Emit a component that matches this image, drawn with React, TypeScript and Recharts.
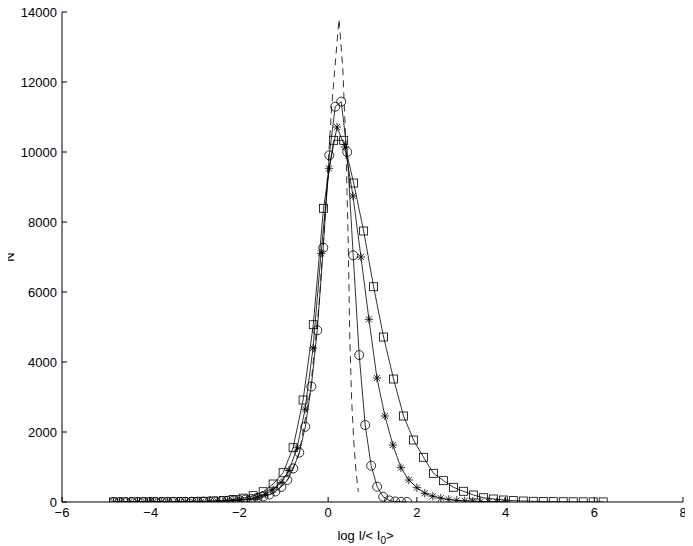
import React from 'react';
import { ScatterChart, Scatter, XAxis, YAxis } from 'recharts';

const FONT = '"Liberation Sans", Arial, Helvetica, sans-serif';

const xTicks = [-6, -4, -2, 0, 2, 4, 6, 8];
const yTicks = [0, 2000, 4000, 6000, 8000, 10000, 12000, 14000];

const circleX = [-4.835, -4.7, -4.565, -4.43, -4.295, -4.16, -4.025, -3.89, -3.755, -3.62, -3.485, -3.35, -3.215, -3.08, -2.945, -2.81, -2.675, -2.54, -2.405, -2.27, -2.135, -2.0, -1.865, -1.73, -1.595, -1.46, -1.325, -1.19, -1.055, -0.92, -0.785, -0.65, -0.515, -0.38, -0.245, -0.11, 0.025, 0.16, 0.295, 0.43, 0.565, 0.7, 0.835, 0.97, 1.105, 1.24, 1.375, 1.51, 1.645, 1.78];
const circleY = [1, 1, 1, 1, 2, 2, 2, 3, 3, 4, 4, 5, 6, 7, 9, 12, 15, 19, 25, 32, 42, 55, 70, 90, 120, 160, 215, 300, 430, 630, 960, 1410, 2150, 3300, 4905, 7266, 9905, 11294, 11440, 10000, 7048, 4200, 2200, 1037, 437, 151, 45, 15, 6, 2];

const starX = [-4.84, -4.66, -4.48, -4.3, -4.12, -3.94, -3.76, -3.58, -3.4, -3.22, -3.04, -2.86, -2.68, -2.5, -2.32, -2.14, -1.96, -1.78, -1.6, -1.42, -1.24, -1.06, -0.88, -0.7, -0.52, -0.34, -0.16, 0.02, 0.2, 0.38, 0.56, 0.74, 0.92, 1.1, 1.28, 1.46, 1.64, 1.82, 2.0, 2.18, 2.36, 2.54, 2.72, 2.9, 3.08, 3.26, 3.44, 3.62, 3.8, 3.98];
const starY = [1, 1, 1, 2, 2, 3, 3, 4, 5, 6, 8, 10, 14, 20, 28, 40, 60, 90, 140, 220, 350, 560, 900, 1550, 2650, 4400, 7105, 9534, 10714, 10143, 8743, 7000, 5220, 3543, 2457, 1629, 980, 629, 409, 249, 165, 110, 72, 48, 32, 22, 15, 10, 7, 5];

const squareX = [-4.84, -4.615, -4.39, -4.165, -3.94, -3.715, -3.49, -3.265, -3.04, -2.815, -2.59, -2.365, -2.14, -1.915, -1.69, -1.465, -1.24, -1.015, -0.79, -0.565, -0.335, -0.105, 0.124, 0.35, 0.575, 0.8, 1.025, 1.25, 1.475, 1.7, 1.925, 2.15, 2.375, 2.6, 2.825, 3.05, 3.275, 3.5, 3.725, 3.95, 4.175, 4.4, 4.625, 4.85, 5.075, 5.3, 5.525, 5.75, 5.975, 6.2];
const squareY = [1, 2, 2, 3, 4, 5, 7, 10, 14, 20, 30, 45, 70, 110, 180, 294, 514, 837, 1551, 2914, 5066, 8391, 10334, 10334, 9114, 7743, 6151, 4714, 3514, 2457, 1771, 1277, 820, 609, 420, 306, 200, 123, 86, 57, 40, 28, 20, 14, 10, 8, 6, 5, 4, 3];

const dashX = [-1.6, -1.2, -0.9, -0.65, -0.4, -0.2, -0.05, 0.08, 0.245, 0.33, 0.4, 0.45, 0.49, 0.53, 0.58, 0.63, 0.68];
const dashY = [60, 280, 650, 1400, 3200, 5700, 8600, 11300, 13800, 12400, 10200, 7600, 4600, 2900, 1700, 850, 290];

const zip = (xs: number[], ys: number[]) => xs.map((x, i) => ({ x, y: ys[i] }));

const circleData = zip(circleX, circleY);
const starData = zip(starX, starY);
const squareData = zip(squareX, squareY);
const dashData = zip(dashX, dashY);

const SW = 0.8;

const CircleShape = (p: any) => (
  <circle cx={p.cx} cy={p.cy} r={4.5} fill="none" stroke="#000" strokeWidth={SW} />
);
const SquareShape = (p: any) => (
  <rect x={p.cx - 4} y={p.cy - 4} width={8} height={8} fill="none" stroke="#000" strokeWidth={SW} />
);
const StarShape = (p: any) => {
  const r = 4.2;
  const d = r * 0.72;
  const { cx, cy } = p;
  return (
    <g stroke="#000" strokeWidth={SW}>
      <line x1={cx - r} y1={cy} x2={cx + r} y2={cy} />
      <line x1={cx} y1={cy - r} x2={cx} y2={cy + r} />
      <line x1={cx - d} y1={cy - d} x2={cx + d} y2={cy + d} />
      <line x1={cx - d} y1={cy + d} x2={cx + d} y2={cy - d} />
    </g>
  );
};
const NoShape = () => <g />;

const fmt = (v: number) => (v < 0 ? '\u2212' + Math.abs(v) : String(v));

const BottomTick = (p: any) => {
  const { x, y, payload } = p;
  return (
    <g>
      <line x1={x} y1={y} x2={x} y2={y - 5} stroke="#000" strokeWidth={1} />
      <text x={x} y={y + 15} textAnchor="middle" fontSize={13} fontFamily={FONT} fill="#000">
        {fmt(payload.value)}
      </text>
    </g>
  );
};
const TopTick = (p: any) => {
  const { x, y } = p;
  return <line x1={x} y1={y} x2={x} y2={y + 5} stroke="#000" strokeWidth={1} />;
};
const LeftTick = (p: any) => {
  const { x, y, payload } = p;
  return (
    <g>
      <line x1={x} y1={y} x2={x + 5} y2={y} stroke="#000" strokeWidth={1} />
      <text x={x - 5} y={y + 4.5} textAnchor="end" fontSize={13} fontFamily={FONT} fill="#000">
        {payload.value}
      </text>
    </g>
  );
};
const RightTick = (p: any) => {
  const { x, y } = p;
  return <line x1={x} y1={y} x2={x - 5} y2={y} stroke="#000" strokeWidth={1} />;
};

const XLabel = (p: any) => {
  const vb = p.viewBox || {};
  const cx = (vb.x || 0) + (vb.width || 0) / 2 - 7;
  const cy = (vb.y || 0) + 38;
  return (
    <text x={cx} y={cy} textAnchor="middle" fontSize={13} fontFamily={FONT} fill="#000">
      <tspan>log I/&lt; I</tspan>
      <tspan fontSize={10} dy={4}>0</tspan>
      <tspan dy={-4}>&gt;</tspan>
    </text>
  );
};

const YLabel = (p: any) => {
  const vb = p.viewBox || {};
  const cy = (vb.y || 0) + (vb.height || 0) / 2;
  const x = 14;
  return (
    <text x={x} y={cy} transform={`rotate(-90 ${x} ${cy})`} textAnchor="middle" fontSize={13} fontFamily={FONT} fill="#000">
      N
    </text>
  );
};

export default function App() {
  return (
    <div style={{ width: 693, height: 546, margin: '-8px 0 0 -8px', background: '#fff' }}>
      <ScatterChart width={693} height={546} margin={{ top: 12, right: 10, bottom: 14, left: 12 }}>
        <XAxis
          dataKey="x"
          type="number"
          domain={[-6, 8]}
          ticks={xTicks}
          interval={0}
          allowDataOverflow
          height={30}
          tickSize={0}
          tickMargin={0}
          tickLine={false}
          axisLine={{ stroke: '#000', strokeWidth: 1 }}
          tick={<BottomTick />}
          label={<XLabel />}
        />
        <XAxis
          xAxisId="top"
          orientation="top"
          dataKey="x"
          type="number"
          domain={[-6, 8]}
          ticks={xTicks}
          interval={0}
          allowDataOverflow
          height={0}
          tickSize={0}
          tickMargin={0}
          tickLine={false}
          axisLine={{ stroke: '#000', strokeWidth: 1 }}
          tick={<TopTick />}
        />
        <YAxis
          dataKey="y"
          type="number"
          domain={[0, 14000]}
          ticks={yTicks}
          interval={0}
          allowDataOverflow
          width={50}
          tickSize={0}
          tickMargin={0}
          tickLine={false}
          axisLine={{ stroke: '#000', strokeWidth: 1 }}
          tick={<LeftTick />}
          label={<YLabel />}
        />
        <YAxis
          yAxisId="right"
          orientation="right"
          dataKey="y"
          type="number"
          domain={[0, 14000]}
          ticks={yTicks}
          interval={0}
          allowDataOverflow
          width={0}
          tickSize={0}
          tickMargin={0}
          tickLine={false}
          axisLine={{ stroke: '#000', strokeWidth: 1 }}
          tick={<RightTick />}
        />
        <Scatter
          data={dashData}
          line={{ stroke: '#000', strokeWidth: SW, strokeDasharray: '7 5' }}
          lineType="joint"
          shape={<NoShape />}
          isAnimationActive={false}
        />
        <Scatter
          data={circleData}
          line={{ stroke: '#000', strokeWidth: SW }}
          lineType="joint"
          shape={<CircleShape />}
          isAnimationActive={false}
        />
        <Scatter
          data={starData}
          line={{ stroke: '#000', strokeWidth: SW }}
          lineType="joint"
          shape={<StarShape />}
          isAnimationActive={false}
        />
        <Scatter
          data={squareData}
          line={{ stroke: '#000', strokeWidth: SW }}
          lineType="joint"
          shape={<SquareShape />}
          isAnimationActive={false}
        />
      </ScatterChart>
    </div>
  );
}
